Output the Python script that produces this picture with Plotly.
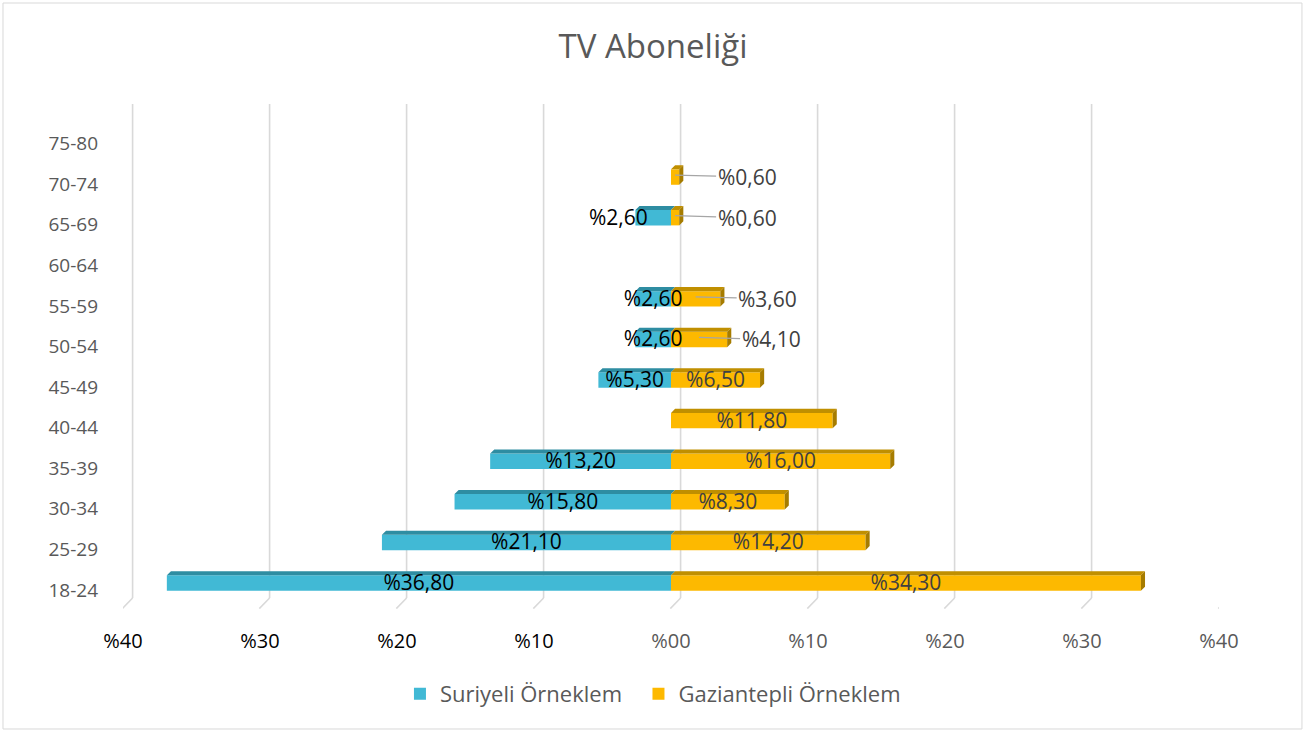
import plotly.graph_objects as go

# ---------------- data ----------------
categories = ["18-24", "25-29", "30-34", "35-39", "40-44", "45-49",
              "50-54", "55-59", "60-64", "65-69", "70-74", "75-80"]
suriyeli = [36.8, 21.1, 15.8, 13.2, None, 5.3, 2.6, 2.6, None, 2.6, None, None]
gaziantepli = [34.3, 14.2, 8.3, 16.0, 11.8, 6.5, 4.1, 3.6, None, 0.6, 0.6, None]
tick_vals = [-40, -30, -20, -10, 0, 10, 20, 30, 40]
tick_text = ["%40", "%30", "%20", "%10", "%00", "%10", "%20", "%30", "%40"]
series_names = ["Suriyeli Örneklem", "Gaziantepli Örneklem"]
title_text = "TV Aboneliği"

# label placement (style): c = centred on bar, out = outside end, lead = leader line
syr_label_pos = ["c", "c", "c", "c", None, "c", "c", "c", None, "out", None, None]
gaz_label_pos = ["c", "c", "c", "c", "c", "c", "lead", "lead", None, "lead", "lead", None]

# ---------------- style ----------------
FONT = "Open Sans"
TEAL = "#41B9D5"
TEAL_TOP = "#2E8DA2"
GOLD = "#FDB900"
GOLD_TOP = "#C08F00"
GOLD_SIDE = "#A67C00"
GREY = "#595959"
GRID = "#D9D9D9"
H = 0.19      # half bar thickness (category units)
DX = 0.3      # 3D depth along x (data units)
DH = 0.1      # 3D depth along y (category units)
LABEL_SIZE = 21
LEGEND_PAD = "\u00a0\u00a0"


def fmt(v):
    return "%" + f"{v:.2f}".replace(".", ",")


idx = list(range(len(categories)))
fig = go.Figure()

# front faces
fig.add_trace(go.Bar(
    y=idx, x=[-v if v is not None else None for v in suriyeli], orientation="h",
    width=0.38, marker=dict(color=TEAL, line=dict(width=0)),
    name=series_names[0] + LEGEND_PAD, hoverinfo="skip"))
fig.add_trace(go.Bar(
    y=idx, x=gaziantepli, orientation="h",
    width=0.38, marker=dict(color=GOLD, line=dict(width=0)), name=series_names[1],
    hoverinfo="skip"))


def top_faces(vals, sign):
    xs, ys = [], []
    for i, v in enumerate(vals):
        if v is None:
            continue
        x0, x1 = (-v, 0) if sign < 0 else (0, v)
        t = i + H
        xs += [x0, x1, x1 + DX, x0 + DX, x0, None]
        ys += [t, t, t + DH, t + DH, t, None]
    return xs, ys


def side_faces(vals):
    xs, ys = [], []
    for i, v in enumerate(vals):
        if v is None:
            continue
        xs += [v, v + DX, v + DX, v, v, None]
        ys += [i - H, i - H + DH, i + H + DH, i + H, i - H, None]
    return xs, ys


for (xs, ys), col in [(top_faces(suriyeli, -1), TEAL_TOP),
                      (top_faces(gaziantepli, 1), GOLD_TOP),
                      (side_faces(gaziantepli), GOLD_SIDE)]:
    fig.add_trace(go.Scatter(x=xs, y=ys, fill="toself", fillcolor=col, mode="lines",
                             line=dict(width=0, color=col), showlegend=False,
                             hoverinfo="skip"))

# data labels
sx, sy, st, sp = [], [], [], []
for i, v in enumerate(suriyeli):
    if v is None or syr_label_pos[i] is None:
        continue
    if syr_label_pos[i] == "c":
        sx.append(-v / 2); sp.append("middle center")
    else:
        sx.append(-v + 0.9); sp.append("middle left")
    sy.append(i - 0.04); st.append(fmt(v))
fig.add_trace(go.Scatter(x=sx, y=sy, text=st, mode="text", textposition=sp,
                         textfont=dict(family=FONT, size=LABEL_SIZE, color="#000000"),
                         showlegend=False, hoverinfo="skip"))

gx, gy, gt = [], [], []
for i, v in enumerate(gaziantepli):
    if v is None or gaz_label_pos[i] is None:
        continue
    if gaz_label_pos[i] == "c":
        gx.append(v / 2); gy.append(i - 0.04); gt.append(fmt(v))
    else:
        fig.add_annotation(x=v / 2, y=i + 0.05, text=fmt(v), showarrow=True,
                           arrowhead=0, arrowwidth=1.3, arrowcolor="#A6A6A6",
                           ax=72, ay=2, standoff=0,
                           font=dict(family=FONT, size=LABEL_SIZE, color="#404040"))
fig.add_trace(go.Scatter(x=gx, y=gy, text=gt, mode="text", textposition="middle center",
                         textfont=dict(family=FONT, size=LABEL_SIZE, color="#404040"),
                         showlegend=False, hoverinfo="skip"))

# gridlines (3D back wall + floor)
for t in tick_vals:
    fig.add_shape(type="line", xref="x", yref="y", x0=t + 0.7, x1=t + 0.7,
                  y0=11.8, y1=-0.37, line=dict(color=GRID, width=1.6), layer="below")
    fig.add_shape(type="line", xref="x", yref="y", x0=t + 0.7, x1=t - 0.05,
                  y0=-0.37, y1=-0.63, line=dict(color=GRID, width=1.6), layer="below")

# outer chart border
fig.add_shape(type="rect", xref="paper", yref="paper", x0=-0.1095, x1=1.0757,
              y0=-0.2376, y1=1.2, line=dict(color=GRID, width=1))

ticktext_col = [f'<span style="color:#000000">{t}</span>' if v < 0 else t
                for v, t in zip(tick_vals, tick_text)]

fig.update_layout(
    width=1306, height=733,
    margin=dict(l=123, r=87, t=104, b=124, autoexpand=False),
    paper_bgcolor="white", plot_bgcolor="white",
    barmode="overlay",
    title=dict(text=title_text, x=0.5, xanchor="center", y=0.936, yanchor="middle",
               font=dict(family=FONT, size=33, color=GREY)),
    xaxis=dict(range=[-40, 40], tickvals=tick_vals, ticktext=ticktext_col,
               showgrid=False, zeroline=False, showline=False, ticks="",
               ticklabelstandoff=18, automargin=False,
               tickfont=dict(family=FONT, size=20, color=GREY)),
    yaxis=dict(range=[-0.64, 11.8], tickvals=idx, ticktext=categories,
               showgrid=False, zeroline=False, showline=False, ticks="",
               ticklabelstandoff=24, ticklabelshift=7, automargin=False,
               tickfont=dict(family=FONT, size=19, color=GREY)),
    legend=dict(orientation="h", x=0.2527, xanchor="left", y=-0.168, yanchor="middle",
                font=dict(family=FONT, size=22, color=GREY), itemwidth=30,
                traceorder="normal"),
    showlegend=True,
)

fig.write_html("out.html", config={"displayModeBar": False},
               post_script="document.body.style.margin='0';")
